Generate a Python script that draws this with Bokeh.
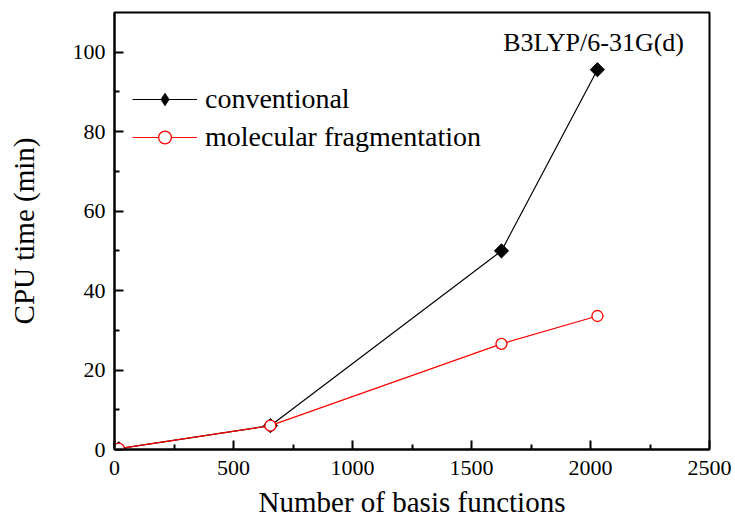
import math
from bokeh.plotting import figure
from bokeh.models import Range1d, FixedTicker, Legend, LegendItem
from bokeh.embed import file_html
from bokeh.resources import INLINE

# data
basis_functions = [18, 655, 1626, 2029]
conventional = [0.2, 6.0, 50.0, 95.6]
fragmentation = [0.2, 6.0, 26.6, 33.6]
x_ticks = [0, 500, 1000, 1500, 2000, 2500]
x_minor = [250, 750, 1250, 1750, 2250]
y_ticks = [0, 20, 40, 60, 80, 100]
y_minor = [10, 30, 50, 70, 90]

FONT = "'Liberation Serif', serif"

p = figure(width=735, height=526, output_backend="svg", toolbar_location=None,
           x_range=Range1d(0, 2500), y_range=Range1d(0, 110),
           min_border_left=114, min_border_right=26, min_border_top=12, min_border_bottom=77)
p.grid.visible = False
p.outline_line_color = "black"
p.outline_line_width = 2
p.background_fill_color = "white"
p.border_fill_color = "white"

p.xaxis.ticker = FixedTicker(ticks=x_ticks, minor_ticks=x_minor)
p.yaxis.ticker = FixedTicker(ticks=y_ticks, minor_ticks=y_minor)
for axes in (p.xaxis, p.yaxis):
    axes.axis_line_width = 2
    axes.major_tick_in = 9
    axes.major_tick_out = 0
    axes.minor_tick_in = 5
    axes.minor_tick_out = 0
    axes.major_tick_line_width = 2
    axes.minor_tick_line_width = 2
    axes.major_label_text_font = FONT
    axes.major_label_text_font_size = "22px"
    axes.major_label_text_color = "black"
    axes.axis_label_text_font = FONT
    axes.axis_label_text_font_size = "29px"
    axes.axis_label_text_font_style = "normal"
    axes.axis_label_text_color = "black"

p.xaxis.axis_label = "Number of basis functions"
p.yaxis.axis_label = "CPU time (min)"
p.xaxis.major_label_standoff = 11
p.yaxis.major_label_standoff = 9
p.xaxis.axis_label_standoff = 8
p.yaxis.axis_label_standoff = 30

l1 = p.line(basis_functions, conventional, line_color="black", line_width=1.2)
l2 = p.line(basis_functions, fragmentation, line_color="red", line_width=1.2)
m1 = p.scatter(basis_functions, conventional, marker="square", angle=math.pi / 4, size=10,
               fill_color="black", line_color="black", line_width=1)
m1_leg = p.scatter(basis_functions, conventional, marker="diamond", size=13,
                   fill_color="black", line_color="black", line_width=0.5)
m2 = p.scatter(basis_functions, fragmentation, marker="circle", size=11,
               fill_color="white", line_color="red", line_width=1.3)

p.text(x=[2013], y=[102.5], text=["B3LYP/6-31G(d)"], text_font={"value": FONT},
       text_font_size="26px", text_align="center", text_baseline="middle", text_color="black")

legend = Legend(items=[LegendItem(label="conventional", renderers=[l1, m1_leg]),
                       LegendItem(label="molecular fragmentation", renderers=[l2, m2])],
                location=(18, 294), padding=0, spacing=1, margin=0,
                glyph_width=65, glyph_height=32, label_height=37, label_standoff=8,
                label_text_font=FONT, label_text_font_size="28px", label_text_color="black",
                border_line_color=None, background_fill_alpha=0)
p.add_layout(legend)

open("out.html", "w").write(file_html(p, INLINE))
